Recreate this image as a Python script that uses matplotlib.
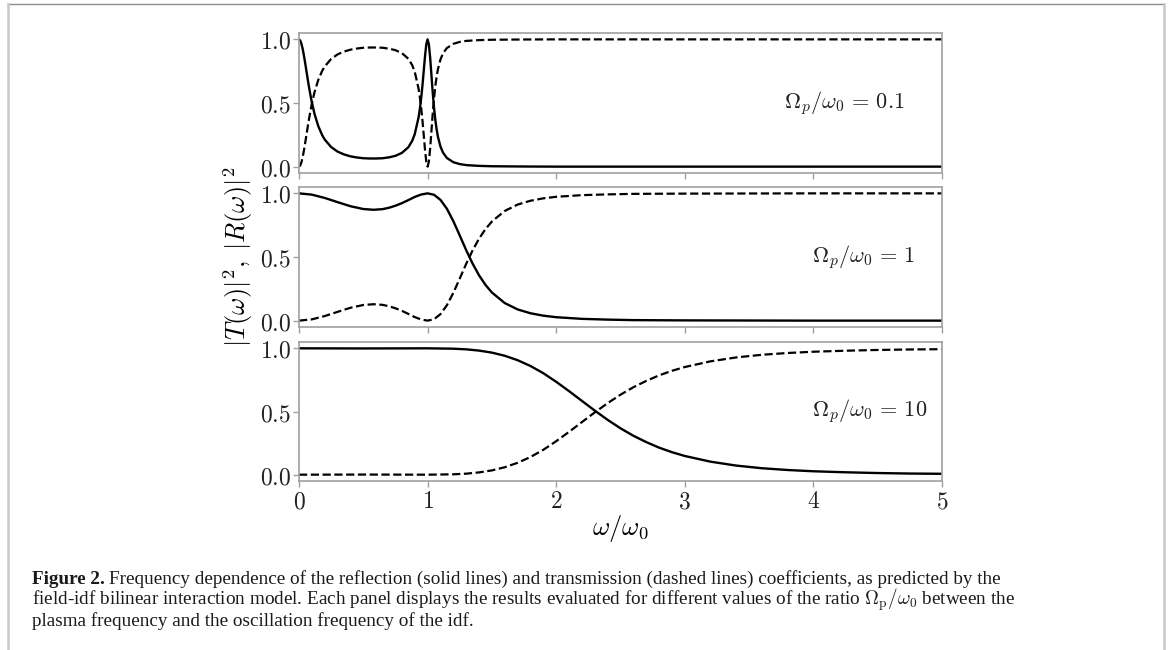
import matplotlib
matplotlib.use('Agg')
import matplotlib.pyplot as plt
from matplotlib.lines import Line2D

plt.rcParams['mathtext.fontset'] = 'cm'

# values (omega / omega_0, reflection, transmission)
w_01 = [0, 0.01, 0.02, 0.03, 0.04, 0.05, 0.06, 0.07, 0.08, 0.09, 0.10, 0.12, 0.15, 0.18,
        0.2, 0.25, 0.3, 0.35, 0.4, 0.45, 0.5, 0.55, 0.6, 0.65, 0.7, 0.75, 0.8, 0.85, 0.88,
        0.9, 0.93, 0.94, 0.95, 0.96, 0.97, 0.98, 0.99, 1.0, 1.01, 1.02, 1.03, 1.04, 1.05,
        1.06, 1.07, 1.08, 1.1, 1.12, 1.15, 1.2, 1.25, 1.3, 1.4, 1.5, 1.75, 2.0, 3.0, 4.0, 5.0]
refl_01 = [1.000, 0.990, 0.962, 0.918, 0.863, 0.801, 0.737, 0.673, 0.613, 0.557, 0.505,
           0.417, 0.318, 0.248, 0.213, 0.154, 0.118, 0.096, 0.081, 0.072, 0.066, 0.064,
           0.064, 0.066, 0.073, 0.085, 0.108, 0.152, 0.202, 0.255, 0.388, 0.455, 0.538,
           0.638, 0.753, 0.869, 0.963, 1.000, 0.960, 0.855, 0.718, 0.581, 0.463, 0.368,
           0.294, 0.236, 0.158, 0.110, 0.068, 0.035, 0.020, 0.012, 0.006, 0.003, 0.001,
           0.000, 0.000, 0.000, 0.000]
trans_01 = [0.000, 0.010, 0.038, 0.082, 0.137, 0.199, 0.263, 0.327, 0.387, 0.443, 0.495,
            0.583, 0.682, 0.752, 0.787, 0.846, 0.882, 0.904, 0.919, 0.928, 0.934, 0.936,
            0.936, 0.934, 0.927, 0.915, 0.892, 0.848, 0.798, 0.745, 0.612, 0.545, 0.462,
            0.362, 0.247, 0.131, 0.037, 0.000, 0.040, 0.145, 0.282, 0.419, 0.537, 0.632,
            0.706, 0.764, 0.842, 0.890, 0.932, 0.965, 0.980, 0.988, 0.994, 0.997, 0.999,
            1.000, 1.000, 1.000, 1.000]

w_1 = [0, 0.1, 0.2, 0.3, 0.4, 0.5, 0.58, 0.65, 0.7, 0.75, 0.8, 0.85, 0.9, 0.95, 1.0, 1.05,
       1.1, 1.15, 1.2, 1.25, 1.3, 1.35, 1.4, 1.45, 1.5, 1.6, 1.7, 1.8, 1.9, 2.0, 2.2, 2.4,
       2.6, 2.8, 3.0, 3.5, 4.0, 4.5, 5.0]
refl_1 = [1.000, 0.990, 0.964, 0.931, 0.899, 0.877, 0.871, 0.876, 0.887, 0.903, 0.923,
          0.947, 0.972, 0.991, 1.000, 0.989, 0.949, 0.879, 0.782, 0.669, 0.554, 0.448,
          0.356, 0.281, 0.221, 0.138, 0.088, 0.058, 0.039, 0.027, 0.014, 0.008, 0.004,
          0.003, 0.002, 0.001, 0.000, 0.000, 0.000]
trans_1 = [0.000, 0.010, 0.036, 0.069, 0.101, 0.123, 0.129, 0.124, 0.113, 0.097, 0.077,
           0.053, 0.028, 0.009, 0.000, 0.011, 0.051, 0.121, 0.218, 0.331, 0.446, 0.552,
           0.644, 0.719, 0.779, 0.862, 0.912, 0.942, 0.961, 0.973, 0.986, 0.992, 0.996,
           0.997, 0.998, 0.999, 1.000, 1.000, 1.000]

w_10 = [0, 0.5, 1.0, 1.2, 1.3, 1.4, 1.5, 1.6, 1.7, 1.8, 1.9, 2.0, 2.1, 2.2, 2.3, 2.4, 2.5,
        2.6, 2.7, 2.8, 2.9, 3.0, 3.2, 3.4, 3.6, 3.8, 4.0, 4.25, 4.5, 4.75, 5.0]
refl_10 = [1.000, 0.999, 1.000, 0.997, 0.992, 0.982, 0.966, 0.941, 0.906, 0.860, 0.803,
           0.735, 0.661, 0.584, 0.507, 0.434, 0.367, 0.308, 0.258, 0.214, 0.178, 0.148,
           0.103, 0.072, 0.051, 0.037, 0.027, 0.019, 0.013, 0.009, 0.007]
trans_10 = [0.000, 0.001, 0.000, 0.003, 0.008, 0.018, 0.034, 0.059, 0.094, 0.140, 0.197,
            0.265, 0.339, 0.416, 0.493, 0.566, 0.633, 0.692, 0.742, 0.786, 0.822, 0.852,
            0.897, 0.928, 0.949, 0.963, 0.973, 0.981, 0.987, 0.991, 0.993]

labels = [r'$\Omega_p/\omega_0\,=\,0.1$', r'$\Omega_p/\omega_0\,=\,1$',
          r'$\Omega_p/\omega_0\,=\,10$']
xticks = [0, 1, 2, 3, 4, 5]
yticks = [0.0, 0.5, 1.0]

fig = plt.figure(figsize=(11.7, 6.5), dpi=100)
W, H = 1170.0, 650.0

# page frame
fig.add_artist(Line2D([8 / W, 1164 / W], [1 - 4 / H, 1 - 4 / H], color='#8c8c8c', lw=1.0))
fig.add_artist(Line2D([8 / W, 8 / W], [0, 1 - 4 / H], color='#c8c8c8', lw=1.8))
fig.add_artist(Line2D([1164 / W, 1164 / W], [0, 1 - 4 / H], color='#c8c8c8', lw=1.8))

panels = [(w_01, refl_01, trans_01, 33, 173, 0.755),
          (w_1, refl_1, trans_1, 187, 327, 0.798),
          (w_10, refl_10, trans_10, 342, 481, 0.798)]
left, right = 299, 942
axes = []
for i, (w, r, t, top, bot, tx) in enumerate(panels):
    ax = fig.add_axes([left / W, 1 - bot / H, (right - left) / W, (bot - top) / H])
    ax.plot(w, r, color='black', lw=1.7)
    ax.plot(w, t, color='black', lw=1.6, ls='--')
    ax.set_xlim(0, 5)
    ax.set_ylim(-0.05, 1.05)
    ax.set_xticks(xticks)
    ax.set_xticklabels(['$%d$' % v for v in xticks])
    ax.set_yticks(yticks)
    ax.set_yticklabels(['$%.1f$' % v for v in yticks])
    for s in ax.spines.values():
        s.set_color('#a0a0a0')
        s.set_linewidth(1.2)
    ax.tick_params(direction='out', length=4, width=1, color='#a0a0a0',
                   labelsize=17, labelcolor='#222222', pad=2)
    if i < 2:
        ax.tick_params(axis='x', labelbottom=False)
    ax.text(tx, 0.5, labels[i], transform=ax.transAxes, fontsize=16,
            ha='left', va='center', color='#222222')
    axes.append(ax)

axes[1].set_ylabel(r'$|T(\omega)|^2,\;|R(\omega)|^2$', fontsize=19, labelpad=3)
axes[2].set_xlabel(r'$\omega/\omega_0$', fontsize=19, labelpad=0)

# caption
cap_font = dict(family='Liberation Serif', size=13.8, va='baseline', color='#1a1a1a')
x0 = 32 / W
t0 = fig.text(x0, 1 - 584 / H, 'Figure 2.', weight='bold', **cap_font)
fig.canvas.draw()
bb = t0.get_window_extent()
fig.text(bb.x1 / W + 4 / W, 1 - 584 / H,
         'Frequency dependence of the reflection (solid lines) and transmission '
         '(dashed lines) coefficients, as predicted by the', **cap_font)
fig.text(x0, 1 - 605 / H,
         r'field-idf bilinear interaction model. Each panel displays the results evaluated '
         r'for different values of the ratio $\Omega_{\mathrm{p}}/\omega_0$ between the',
         **cap_font)
fig.text(x0, 1 - 626 / H,
         'plasma frequency and the oscillation frequency of the idf.', **cap_font)

fig.savefig('out.png', dpi=100)
